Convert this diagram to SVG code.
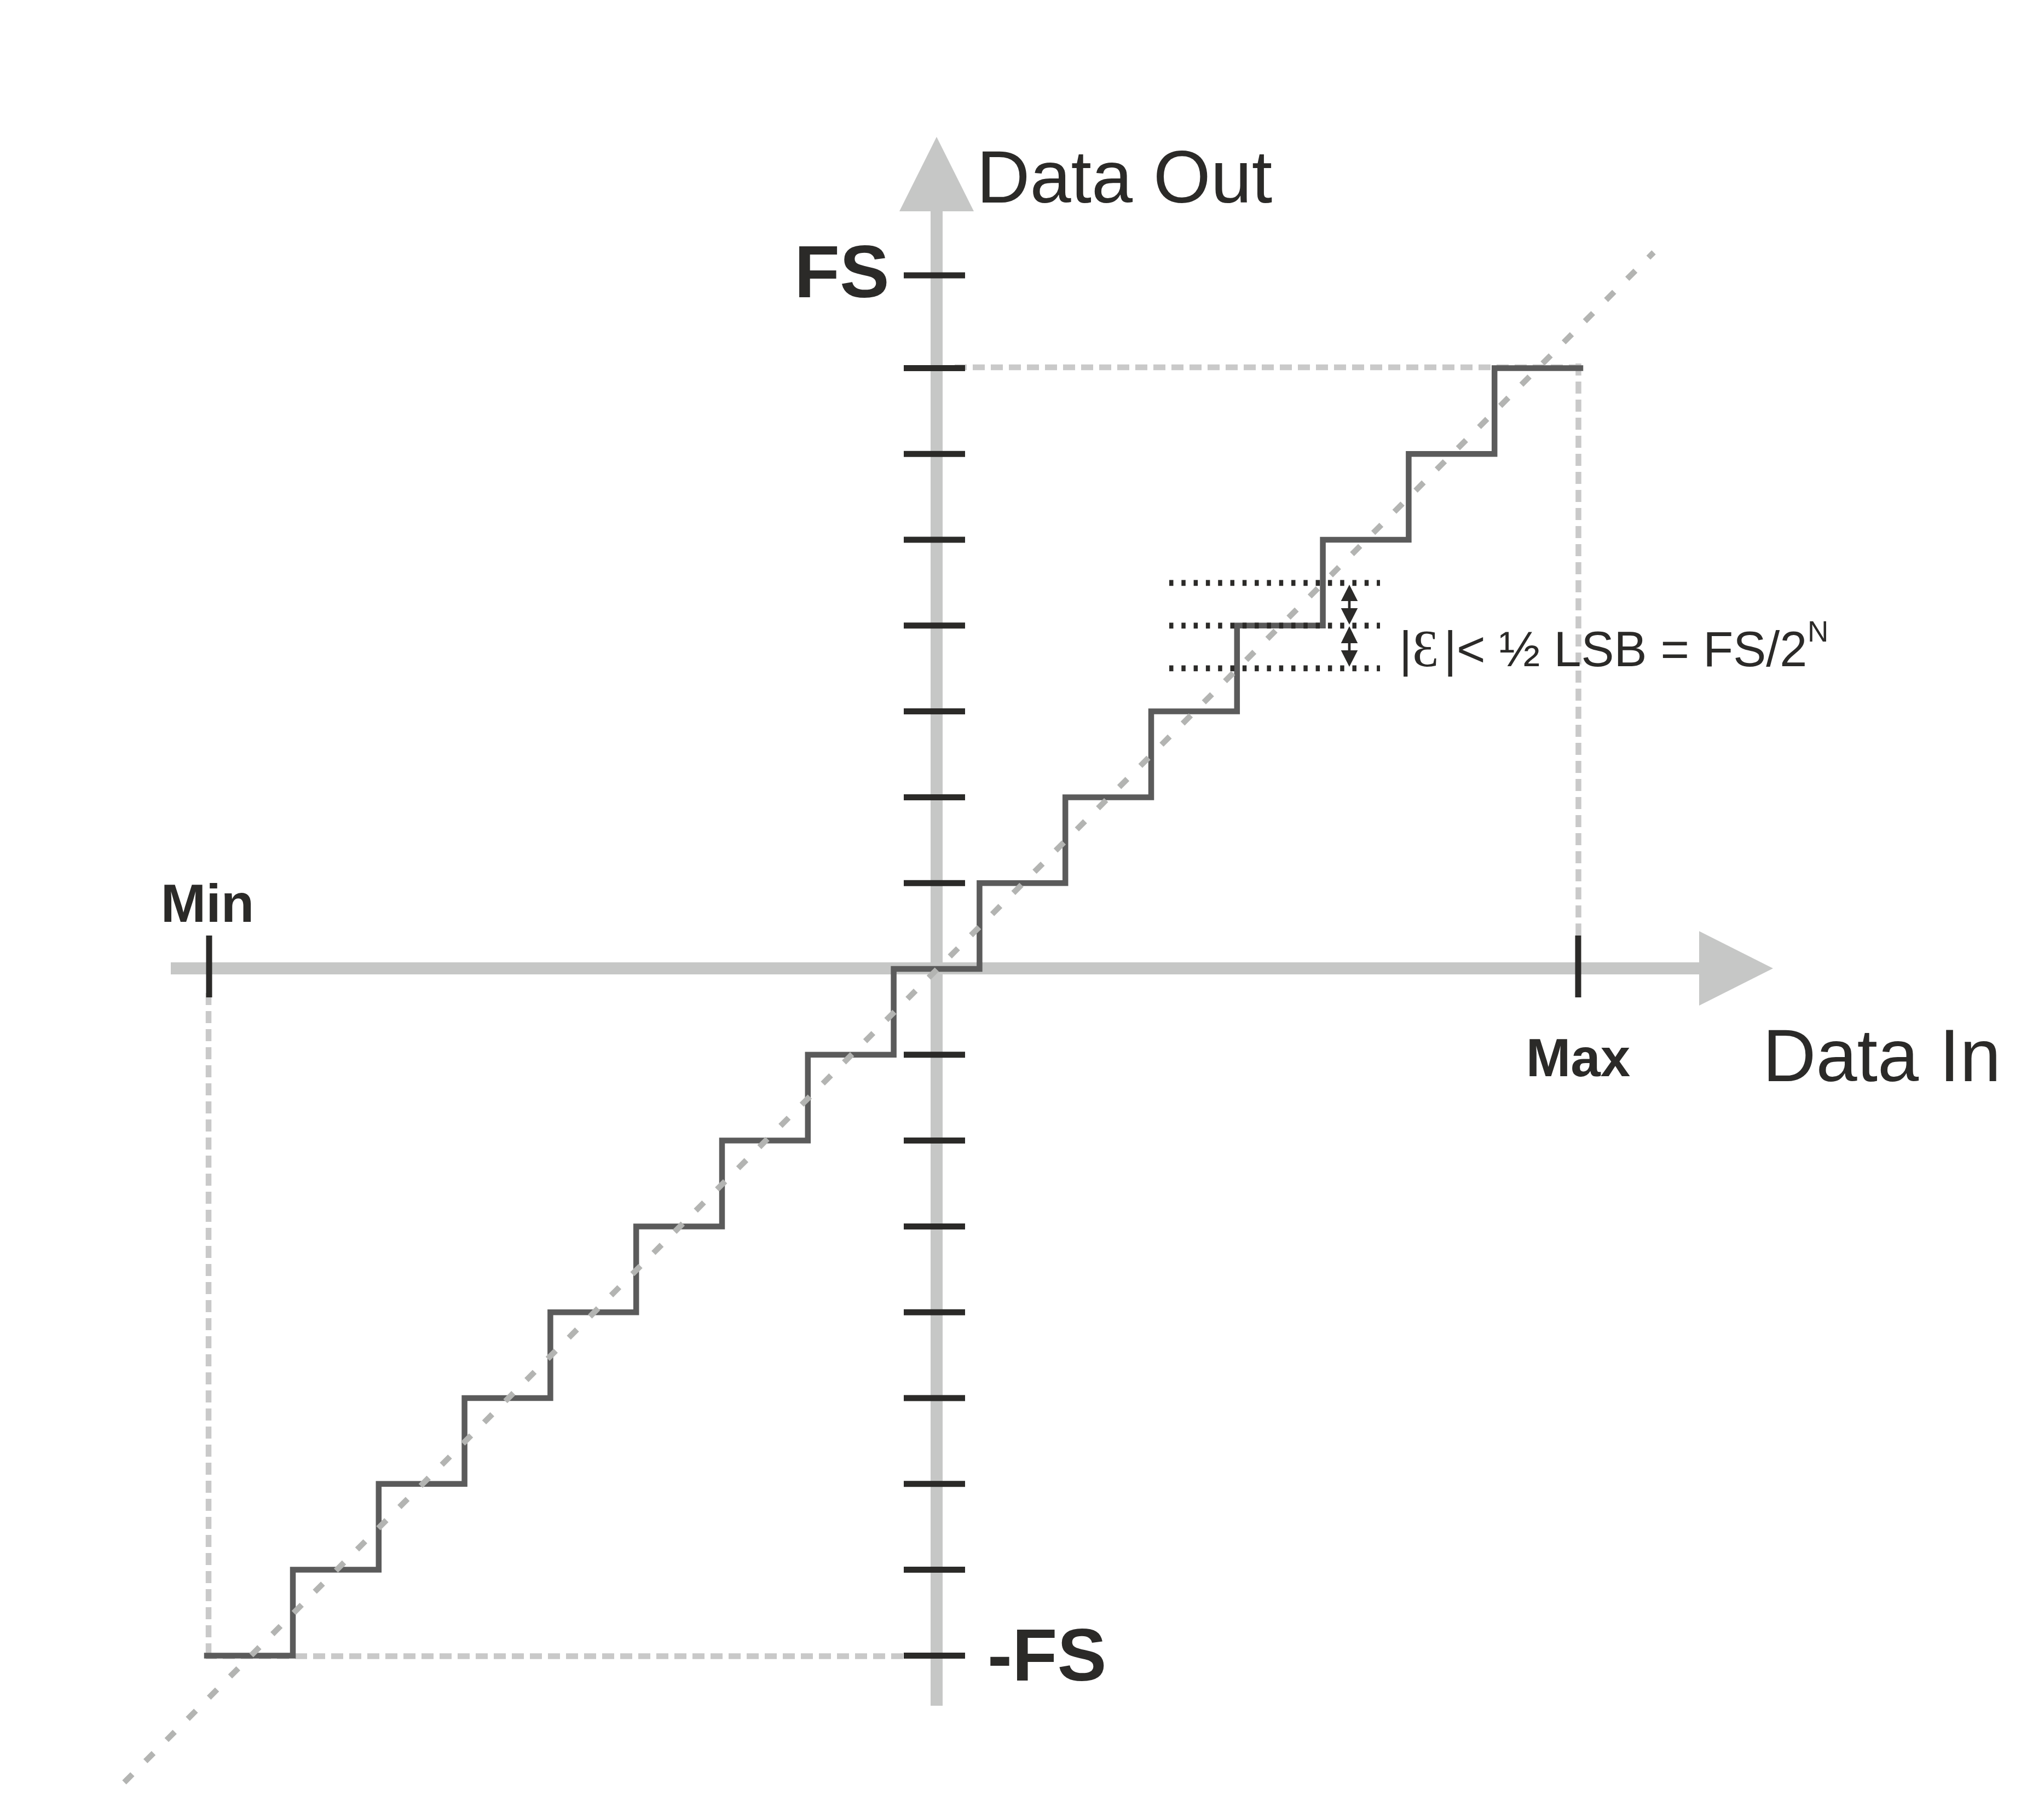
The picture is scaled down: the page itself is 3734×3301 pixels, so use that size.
<svg xmlns="http://www.w3.org/2000/svg" width="3734" height="3301" viewBox="0 0 3734 3301">
<style>
.axis{stroke:#c6c7c6;stroke-width:22;fill:none}
.axhead{fill:#c6c7c6}
.box{stroke:#c9c9c9;stroke-width:10.5;fill:none;stroke-dasharray:22 11}
.tick{stroke:#2b2a28;stroke-width:11;fill:none}
.stair{stroke:#5b5b5b;stroke-width:10.5;fill:none;stroke-linejoin:miter;stroke-linecap:square}
.ideal{stroke:#b3b4b2;stroke-width:10.5;fill:none;stroke-dasharray:21 33.7}
.dot{stroke:#2b2a28;stroke-width:10.7;fill:none;stroke-dasharray:7.5 14.8}
.arr{fill:#2b2a28}
.shaft{stroke:#2b2a28;stroke-width:4.7}
.lbl{font-family:"Liberation Sans",Arial,sans-serif;fill:#2b2a28}
.b{font-weight:bold}
</style>
<rect width="3734" height="3301" fill="#ffffff"/>
<g id="axes">
<line class="axis" x1="1711" y1="380" x2="1711" y2="3116"/>
<polygon class="axhead" points="1711,250 1779,386 1643,386"/>
<line class="axis" x1="312" y1="1769" x2="3110" y2="1769"/>
<polygon class="axhead" points="3239,1769 3104,1701 3104,1837"/>
</g>
<g id="bounds">
<line class="box" x1="1744" y1="671" x2="2889" y2="671"/>
<line class="box" x1="2883.5" y1="664" x2="2883.5" y2="1709"/>
<line class="box" x1="381" y1="1814" x2="381" y2="3031"/>
<line class="box" x1="1650" y1="3025.5" x2="376" y2="3025.5"/>
</g>
<g id="ticks">
<line class="tick" x1="1651" y1="503" x2="1763" y2="503"/>
<line class="tick" x1="1651" y1="672.4" x2="1763" y2="672.4"/>
<line class="tick" x1="1651" y1="829.2" x2="1763" y2="829.2"/>
<line class="tick" x1="1651" y1="986" x2="1763" y2="986"/>
<line class="tick" x1="1651" y1="1142.8" x2="1763" y2="1142.8"/>
<line class="tick" x1="1651" y1="1299.6" x2="1763" y2="1299.6"/>
<line class="tick" x1="1651" y1="1456.4" x2="1763" y2="1456.4"/>
<line class="tick" x1="1651" y1="1613.2" x2="1763" y2="1613.2"/>
<line class="tick" x1="1651" y1="1926.8" x2="1763" y2="1926.8"/>
<line class="tick" x1="1651" y1="2083.6" x2="1763" y2="2083.6"/>
<line class="tick" x1="1651" y1="2240.4" x2="1763" y2="2240.4"/>
<line class="tick" x1="1651" y1="2397.2" x2="1763" y2="2397.2"/>
<line class="tick" x1="1651" y1="2554" x2="1763" y2="2554"/>
<line class="tick" x1="1651" y1="2710.8" x2="1763" y2="2710.8"/>
<line class="tick" x1="1651" y1="2867.6" x2="1763" y2="2867.6"/>
<line class="tick" x1="1651" y1="3024.4" x2="1763" y2="3024.4"/>
<line class="tick" x1="382" y1="1709" x2="382" y2="1822"/>
<line class="tick" x1="2883" y1="1709" x2="2883" y2="1822"/>
</g>
<g id="staircase">
<path class="stair" d="M378,3024.4 H535 V2867.6 H691.8 V2710.8 H848.6 V2554 H1005.4 V2397.2 H1162.2 V2240.4 H1319 V2083.6 H1475.8 V1926.8 H1632.6 V1770 H1789.4 V1613.2 H1946.2 V1456.4 H2103 V1299.6 H2259.8 V1142.8 H2416.6 V986 H2573.4 V829.2 H2730.2 V672.4 H2887"/>
</g>
<g id="error-band">
<line class="dot" x1="2136" y1="1064.8" x2="2521" y2="1064.8"/>
<line class="dot" x1="2136" y1="1142.8" x2="2521" y2="1142.8"/>
<line class="dot" x1="2136" y1="1220.8" x2="2521" y2="1220.8"/>
</g>
<g id="ideal-line">
<line class="ideal" x1="227" y1="3256" x2="3021" y2="461"/>
</g>
<g id="error-arrows">
<line class="shaft" x1="2465" y1="1090" x2="2465" y2="1120"/>
<polygon class="arr" points="2465,1068 2480.3,1098 2449.7,1098"/>
<polygon class="arr" points="2465,1141 2480.3,1111 2449.7,1111"/>
<line class="shaft" x1="2465" y1="1166" x2="2465" y2="1196"/>
<polygon class="arr" points="2465,1144 2480.3,1175 2449.7,1175"/>
<polygon class="arr" points="2465,1218 2480.3,1188 2449.7,1188"/>
</g>
<g id="labels">
<text class="lbl" x="1784" y="370" font-size="135">Data Out</text>
<text class="lbl" x="3220" y="1975" font-size="135">Data In</text>
<text class="lbl b" x="1451" y="543" font-size="136">FS</text>
<text class="lbl b" x="1804" y="3070" font-size="135">-FS</text>
<text class="lbl b" x="379" y="1684" font-size="99" text-anchor="middle">Min</text>
<text class="lbl b" x="2883" y="1966" font-size="98" text-anchor="middle">Max</text>
<text class="lbl" x="2556" y="1217" font-size="90">|<tspan x="2580" font-family="Liberation Serif, DejaVu Serif, serif" font-size="96">Ɛ</tspan><tspan x="2637.5">|&lt; ½ LSB = FS/2</tspan><tspan x="3302" y="1172" font-size="53">N</tspan></text>
</g>
</svg>
